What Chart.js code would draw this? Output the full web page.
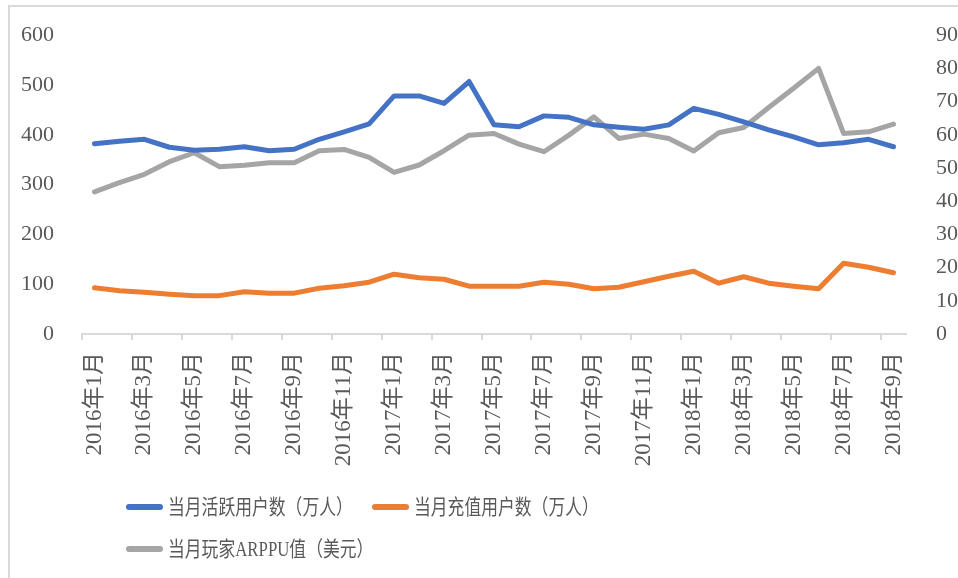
<!DOCTYPE html>
<html>
<head>
<meta charset="utf-8">
<script src="https://cdn.jsdelivr.net/npm/chart.js@4/dist/chart.umd.min.js"></script>
<style>
  body { margin: 0; background: #fff; }
  #wrap { position: relative; width: 958px; height: 578px; overflow: hidden; }
  #frame { position: absolute; left: 8px; top: 5px; right: -4px; bottom: -4px;
           border-top: 2px solid #d9d9d9; border-left: 2px solid #d9d9d9; }
  canvas { position: absolute; left: 0; top: 0; }
  .lg-line { position: absolute; width: 37px; height: 6px; border-radius: 3px; }
  .lg-text { position: absolute; font-family: 'Liberation Serif', 'Noto Sans CJK SC', serif;
             font-size: 21px; color: #595959; white-space: nowrap;
             transform: scaleX(0.8); transform-origin: left center; line-height: 22px; }
</style>
</head>
<body>
<div id="wrap">
  <div id="frame"></div>
  <canvas id="chart" width="958" height="578"></canvas>
  <div id="legend"></div>
</div>
<script>
// months 2016-01 .. 2018-09
const months = [
  '2016年1月', '2016年2月', '2016年3月', '2016年4月', '2016年5月', '2016年6月',
  '2016年7月', '2016年8月', '2016年9月', '2016年10月', '2016年11月', '2016年12月',
  '2017年1月', '2017年2月', '2017年3月', '2017年4月', '2017年5月', '2017年6月',
  '2017年7月', '2017年8月', '2017年9月', '2017年10月', '2017年11月', '2017年12月',
  '2018年1月', '2018年2月', '2018年3月', '2018年4月', '2018年5月', '2018年6月',
  '2018年7月', '2018年8月', '2018年9月'
]
// 当月活跃用户数（万人） - left axis
const activeUsers = [
  382, 387, 391, 375, 369, 371, 376, 368, 371, 391, 406, 422,
  478, 478, 463, 507, 420, 416, 438, 435, 420, 415, 411, 420,
  453, 441, 426, 410, 396, 380, 384, 391, 376
]
// 当月充值用户数（万人） - left axis
const payingUsers = [
  93, 87, 84, 80, 77, 77, 85, 82, 82, 92, 97, 104,
  120, 113, 110, 96, 96, 96, 104, 100, 91, 94, 105, 116,
  126, 102, 115, 102, 96, 91, 142, 134, 123
]
// 当月玩家ARPPU值（美元） - right axis
const arppu = [
  42.8, 45.6, 48.1, 51.9, 54.6, 50.4, 50.8, 51.6, 51.6, 55.2, 55.6, 53.2,
  48.7, 50.9, 55.2, 59.9, 60.4, 57.2, 54.9, 59.9, 65.4, 58.9, 60.2, 58.9,
  55.1, 60.6, 62.2, 68.2, 74.0, 80.0, 60.4, 60.9, 63.2
]
const seriesNames = ['当月活跃用户数（万人）', '当月充值用户数（万人）', '当月玩家ARPPU值（美元）']
const seriesColors = ['#4472C4', '#ED7D31', '#A5A5A5']

const font = "'Liberation Serif', 'Noto Sans CJK SC', serif"
const textColor = '#595959'
const axisColor = '#d9d9d9'

function lineSet(label, data, color, axis) {
  return {
    label: label,
    data: data,
    yAxisID: axis,
    borderColor: color,
    backgroundColor: color,
    borderWidth: 5,
    borderCapStyle: 'round',
    borderJoinStyle: 'round',
    pointRadius: 0,
    tension: 0,
    fill: false
  }
}

new Chart(document.getElementById('chart'), {
  type: 'line',
  data: {
    labels: months,
    datasets: [
      lineSet(seriesNames[0], activeUsers, seriesColors[0], 'y'),
      lineSet(seriesNames[1], payingUsers, seriesColors[1], 'y'),
      lineSet(seriesNames[2], arppu, seriesColors[2], 'y1')
    ]
  },
  options: {
    responsive: false,
    animation: false,
    layout: { padding: { top: 35, left: 0, right: 0, bottom: 0 } },
    plugins: { legend: { display: false }, tooltip: { enabled: false } },
    scales: {
      x: {
        offset: true,
        afterFit: function (scale) { scale.height = 244 },
        border: { display: true, color: axisColor, width: 2 },
        grid: {
          offset: true,
          drawOnChartArea: false,
          drawTicks: true,
          tickLength: 6,
          lineWidth: 2,
          color: function (ctx) {
            return ctx.index !== undefined && ctx.index % 2 === 0 ? axisColor : 'rgba(0,0,0,0)'
          }
        },
        ticks: {
          autoSkip: false,
          minRotation: 90,
          maxRotation: 90,
          padding: 12,
          color: textColor,
          font: { family: font, size: 23 },
          callback: function (value, index) {
            return index % 2 === 0 ? months[index] : ''
          }
        }
      },
      y: {
        position: 'left',
        min: 0,
        max: 600,
        afterFit: function (scale) { scale.width = 82 },
        border: { display: false },
        grid: { display: false },
        ticks: { stepSize: 100, padding: 20, color: textColor, font: { family: font, size: 22 } }
      },
      y1: {
        position: 'right',
        min: 0,
        max: 90,
        afterFit: function (scale) { scale.width = 52 },
        border: { display: false },
        grid: { display: false },
        ticks: { stepSize: 10, padding: 22, color: textColor, font: { family: font, size: 22 } }
      }
    }
  }
})

// legend, laid out like the original: two items on row one, one on row two
const legendSpots = [
  { x: 126, y: 507 },
  { x: 372, y: 507 },
  { x: 126, y: 549 }
]
const legend = document.getElementById('legend')
seriesNames.forEach(function (name, i) {
  const spot = legendSpots[i]
  const line = document.createElement('div')
  line.className = 'lg-line'
  line.style.left = spot.x + 'px'
  line.style.top = (spot.y - 3) + 'px'
  line.style.background = seriesColors[i]
  legend.appendChild(line)
  const text = document.createElement('div')
  text.className = 'lg-text'
  text.style.left = (spot.x + 42) + 'px'
  text.style.top = (spot.y - 11) + 'px'
  text.textContent = name
  legend.appendChild(text)
})
</script>
</body>
</html>
